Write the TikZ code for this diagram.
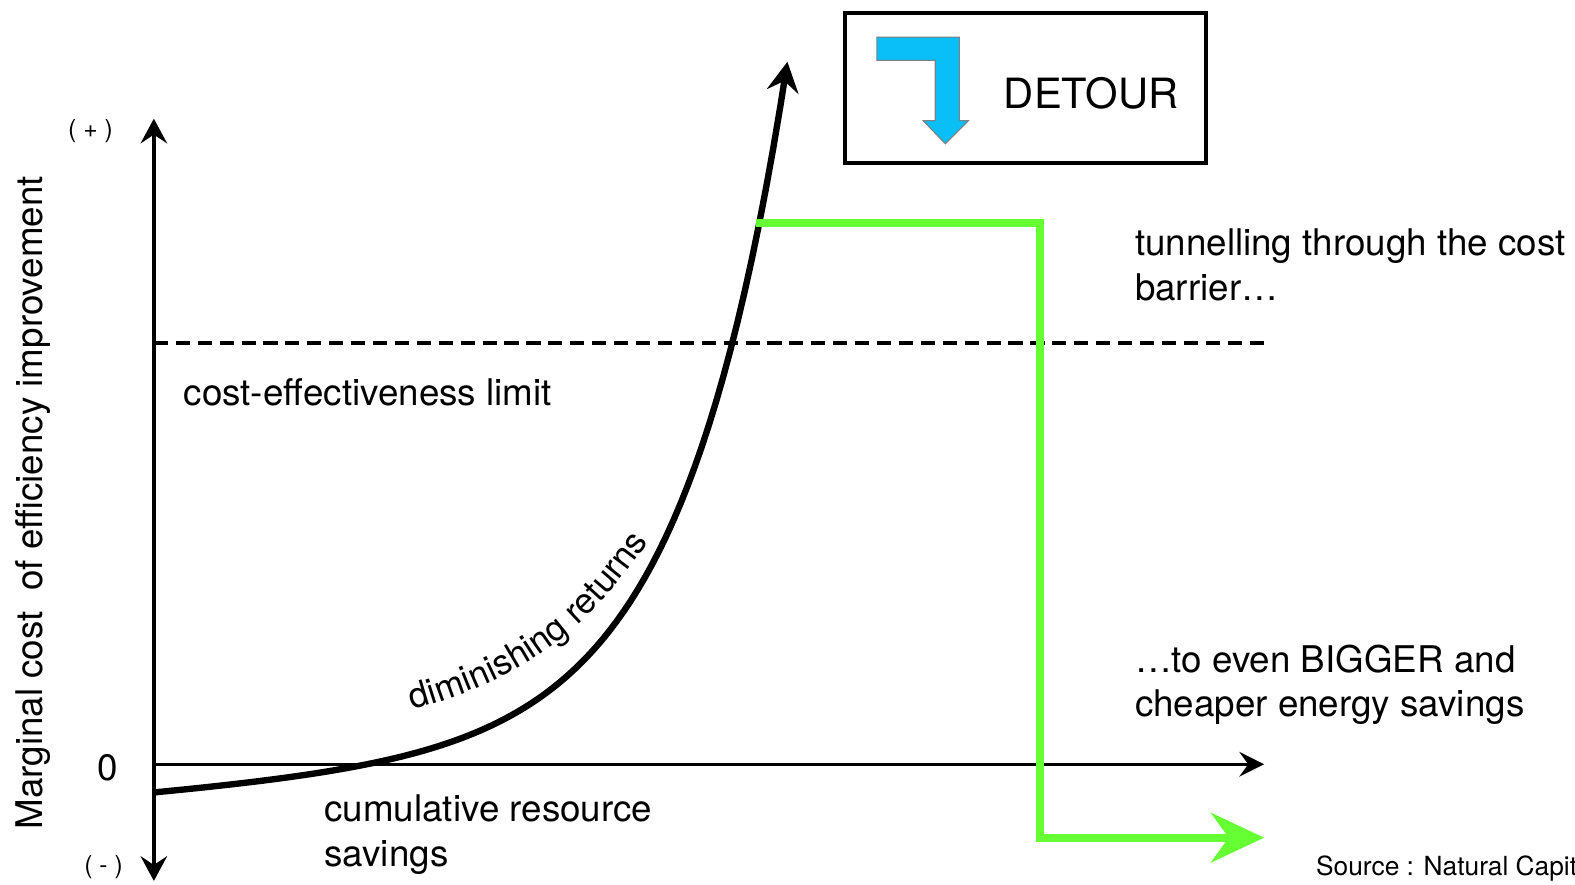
\documentclass[tikz,border=0pt]{standalone}
\usepackage{fontspec}
\setmainfont{TeX Gyre Heros}
\usetikzlibrary{arrows.meta,decorations.text}

\definecolor{tunnelgreen}{HTML}{66FF33}
\definecolor{detourblue}{HTML}{0ABFF7}

\tikzset{
    axis/.style={line width=1pt, -{Stealth[length=7pt,width=7.5pt,inset=2.5pt]}},
    txt/.style={inner sep=0pt, font=\fontsize{10.4}{12.7}\selectfont, align=left},
    small/.style={inner sep=0pt, font=\fontsize{7}{8}\selectfont},
}

\begin{document}
\begin{tikzpicture}[trim left=0cm, trim right=15.662cm]
    \useasboundingbox (0,0) rectangle (15.662,8.8);

    \coordinate (o) at (1.53,1.20);
    \coordinate (ytop) at (1.53,7.62);
    \coordinate (ybot) at (1.53,0.04);
    \coordinate (xend) at (12.57,1.20);
    \coordinate (lima) at (1.53,5.39);
    \coordinate (limb) at (12.58,5.39);

    \draw[axis, {Stealth[length=7pt,width=7.5pt,inset=2.5pt]}-{Stealth[length=7pt,width=7.5pt,inset=2.5pt]}] (ybot) -- (ytop);
    \draw[line width=0.7pt, -{Stealth[length=7pt,width=7pt,inset=2.5pt]}] (o) -- (xend);
    \draw[line width=0.9pt, dash pattern=on 4pt off 2.2pt] (lima) -- (limb);

    \node[small] (plus) at (0.90,7.50) {( + )};
    \node[small] (minus) at (1.03,0.18) {( - )};
    \node[txt] (zero) at (1.07,1.17) {0};
    \node[txt, rotate=90] (ylabel) at (0.33,3.80) {Marginal cost\ \ of efficiency improvement};
    \node[txt, anchor=west] (limit) at (1.82,4.90) {cost-effectiveness limit};
    \node[txt, anchor=west] (savings) at (3.22,0.50) {cumulative resource\\savings};
    \node[txt, anchor=west] (tunnel) at (11.28,6.165) {tunnelling through the cost\\barrier\ldots};
    \node[txt, anchor=west] (bigger) at (11.28,1.99) {\ldots to even BIGGER and\\cheaper energy savings};
    \node[inner sep=0pt, anchor=west, font=\fontsize{7.45}{9}\selectfont] (source) at (13.08,0.16) {Source : Natural Capit};

    \draw[line width=1.8pt, -{Stealth[length=8.5pt,width=9pt,inset=3pt]}]
        plot[domain=1.53:7.83, samples=90] (\x, {0.92 + 0.01706*(exp(0.95*(\x-1.53))-1) + 0.08*(\x-1.53)});

    \path[decorate, decoration={text along path, text align=center,
        text={|\fontsize{10}{12}\selectfont|diminishing returns}}]
        (4.10,1.74) to[bend right=20] (6.45,3.42);

    \coordinate (g0) at (7.52,6.58);
    \coordinate (g1) at (10.34,6.58);
    \coordinate (g2) at (10.34,0.47);
    \coordinate (g3) at (12.57,0.47);
    \draw[tunnelgreen, line width=2.3pt, -{Stealth[length=15pt,width=14pt,inset=5pt]}] (g0) -- (g1) -- (g2) -- (g3);

    \node[draw, line width=1pt, minimum width=3.59cm, minimum height=1.49cm] (detour) at (10.195,7.925) {};
    \node[inner sep=0pt, font=\fontsize{11.8}{14}\selectfont] (detourtxt) at (10.85,7.87) {DETOUR};
    \filldraw[fill=detourblue, draw=gray, line width=0.3pt]
        (8.72,8.43) -- (9.54,8.43) -- (9.54,7.60) -- (9.63,7.60) -- (9.40,7.37)
        -- (9.18,7.60) -- (9.30,7.60) -- (9.30,8.20) -- (8.72,8.20) -- cycle;
\end{tikzpicture}
\end{document}
